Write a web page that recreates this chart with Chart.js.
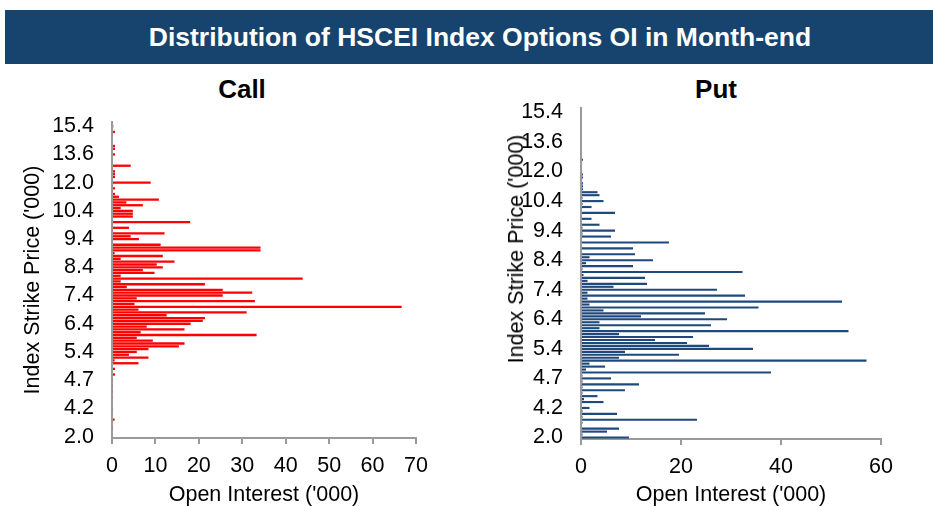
<!DOCTYPE html>
<html>
<head>
<meta charset="utf-8">
<script src="https://cdn.jsdelivr.net/npm/chart.js@4.4.0/dist/chart.umd.min.js"></script>
<style>
html,body{margin:0;padding:0;background:#fff;}
#wrap{position:relative;width:933px;height:506px;overflow:hidden;font-family:Arial,"Liberation Sans",sans-serif;background:#fff;}
#banner{position:absolute;left:5px;top:10px;width:928px;height:54px;background:#17446e;overflow:hidden;}
#banner span{position:absolute;left:0;top:0;width:950px;line-height:54px;text-align:center;color:#fff;font-weight:bold;font-size:26.5px;white-space:nowrap;}
.sub{position:absolute;top:74px;font-weight:bold;font-size:26px;line-height:30px;color:#000;transform:translateX(-50%);white-space:nowrap;}
#callC{position:absolute;left:0;top:0;}
#putC{position:absolute;left:466px;top:0;}
#putYTitle{position:absolute;left:516px;top:249px;transform:translate(-50%,-50%) rotate(-90deg);font-size:21.5px;line-height:24px;white-space:nowrap;color:#000;}
</style>
</head>
<body>
<div id="wrap">
  <div id="banner"><span>Distribution of HSCEI Index Options OI in Month-end</span></div>
  <div class="sub" style="left:242px;">Call</div>
  <div class="sub" style="left:716px;">Put</div>
  <canvas id="callC" width="466" height="506"></canvas>
  <canvas id="putC" width="467" height="506"></canvas>
  <div id="putYTitle">Index Strike Price ('000)</div>
</div>
<script>
// Strike prices ('000), bottom (index 0) to top
const strikes = ['2.0','2.4','2.6','2.8','3.0','3.2','3.4','3.6','3.8','4.0',
  '4.2','4.25','4.3','4.35','4.4','4.45','4.5','4.55','4.6','4.65',
  '4.7','4.75','4.8','4.85','4.9','4.95','5.0','5.1','5.2','5.3',
  '5.4','5.5','5.6','5.7','5.8','5.9','6.0','6.1','6.2','6.3',
  '6.4','6.5','6.6','6.7','6.8','6.9','7.0','7.1','7.2','7.3',
  '7.4','7.5','7.6','7.7','7.8','7.9','8.0','8.1','8.2','8.3',
  '8.4','8.5','8.6','8.7','8.8','8.9','9.0','9.1','9.2','9.3',
  '9.4','9.5','9.6','9.7','9.8','9.9','10.0','10.1','10.2','10.3',
  '10.4','10.5','10.6','10.8','11.0','11.2','11.4','11.6','11.8','11.9',
  '12.0','12.2','12.4','12.6','12.8','13.0','13.2','13.3','13.4','13.5',
  '13.6','13.8','14.0','14.2','14.4','14.6','14.8','15.0','15.1','15.2',
  '15.4','15.6'];

// Strike labels shown on the axis
const shownStrikes = ['2.0','4.2','4.7','5.4','6.4','7.4','8.4','9.4','10.4','12.0','13.6','15.4'];

// Call open interest ('000), same order as strikes
const callOI = [0,0,0,0.2,0,0,0.6,0,0,0,
  0.2,0,0,0,0.2,0,0.2,0,0.2,0,
  0.2,0,0.7,0,0.7,0,6.1,0.6,8.4,3.9,
  5.7,8.4,15.4,16.7,9.4,5.7,33.3,6.6,16.7,8.0,
  18.1,20.9,21.4,12.6,31.0,6.1,66.7,5.2,32.9,5.7,
  25.5,32.3,25.5,3.4,21.4,2.0,43.9,2.0,9.8,7.1,
  11.7,10.3,14.4,2.0,11.7,0.6,34.2,34.2,11.2,0.2,
  6.2,4.3,12.1,0.2,3.9,0.2,18.0,0,4.8,4.8,
  4.8,2.0,7.1,3.3,10.8,1.6,0.7,0.2,0.7,0.2,
  8.9,0,0.7,0.7,0.7,0.2,4.3,0,0,0,
  0.7,0,0.7,0.7,0,0,0,0.2,0.7,0,
  0.3,0];

// Put open interest ('000), same order as strikes
const putOI = [9.6,0.3,5.2,7.6,0,0.3,23.2,0.3,7.2,0.3,
  1.7,0,4.5,0.6,3.3,0.3,8.8,0.3,11.6,0.3,
  6.0,0.3,38.0,1.0,4.8,1.7,57.1,7.6,19.6,8.8,
  34.4,25.6,21.2,14.8,22.4,7.6,53.5,3.7,26.0,3.7,
  29.2,12.0,24.8,4.5,35.5,1.7,52.2,1.3,32.8,1.3,
  27.2,6.5,13.2,1.3,12.8,0.5,32.3,0.3,10.4,1.0,
  14.4,1.7,10.8,0,10.4,0,17.6,0,6.0,0.3,
  6.8,0.3,3.7,0,2.1,0,6.8,0,2.1,0.3,
  4.5,0.3,3.7,3.3,0.4,0.4,0.4,0,0.4,0.4,
  0,0,0,0,0.4,0,0,0,0,0,
  0,0,0,0,0,0,0,0,0,0,
  0,0];

const FONT = 'Arial, "Liberation Sans", sans-serif';
const AXIS_GREY = '#9a9a9a';
const FS = 21.5;

function makeChart(id, values, color, xMax, xStep, opts) {
  return new Chart(document.getElementById(id), {
    type: 'bar',
    data: {
      labels: strikes,
      datasets: [{
        data: values,
        backgroundColor: color,
        borderWidth: 0,
        barPercentage: opts.barPct,
        categoryPercentage: 1.0
      }]
    },
    options: {
      indexAxis: 'y',
      responsive: false,
      animation: false,
      layout: { padding: opts.padding },
      plugins: { legend: { display: false }, tooltip: { enabled: false }, title: { display: false } },
      scales: {
        x: {
          type: 'linear',
          min: 0, max: xMax,
          ticks: { stepSize: xStep, padding: 9, color: '#000', font: { family: FONT, size: FS } },
          grid: { display: true, drawOnChartArea: false, drawTicks: true, tickLength: 6, color: AXIS_GREY, lineWidth: 2 },
          border: { display: true, color: AXIS_GREY, width: 2 },
          title: { display: true, text: "Open Interest ('000)", color: '#000', font: { family: FONT, size: FS, lineHeight: 1.0 }, padding: { top: 0, bottom: 0 } },
          afterFit: function (s) { s.height = opts.xHeight; }
        },
        y: {
          type: 'category',
          reverse: true,
          offset: true,
          ticks: {
            autoSkip: false,
            padding: 18,
            color: '#000',
            font: { family: FONT, size: FS },
            callback: function (v) {
              const lab = this.getLabelForValue(v);
              return shownStrikes.includes(lab) ? lab : '';
            }
          },
          grid: { display: true, drawOnChartArea: false, drawTicks: false, tickLength: 0 },
          border: { display: true, color: AXIS_GREY, width: 2 },
          title: { display: opts.yTitle, text: "Index Strike Price ('000)", color: '#000', font: { family: FONT, size: FS }, padding: { top: 20, bottom: 0 } },
          afterFit: function (s) { s.width = opts.yWidth; }
        }
      }
    }
  });
}

makeChart('callC', callOI, '#ff0000', 70, 10, {
  padding: { left: 0, right: 50, top: 122, bottom: 0 },
  yWidth: 112, xHeight: 68, yTitle: true, barPct: 0.82
});
makeChart('putC', putOI, '#1f497d', 60, 20, {
  padding: { left: 0, right: 52, top: 108, bottom: 0 },
  yWidth: 115, xHeight: 67, yTitle: false, barPct: 0.72
});
</script>
</body>
</html>
